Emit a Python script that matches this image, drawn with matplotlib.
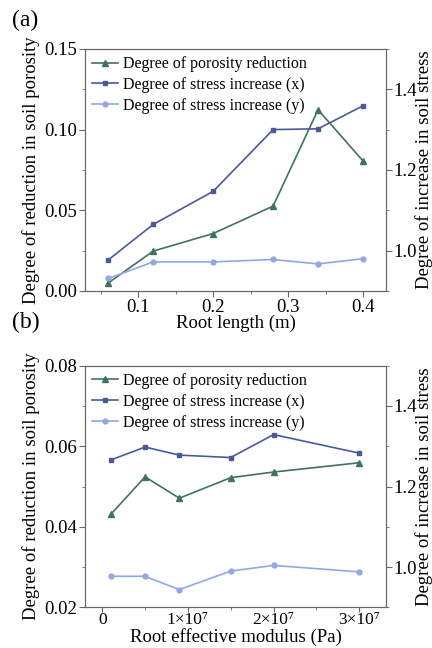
import matplotlib
matplotlib.use("Agg")
import matplotlib.pyplot as plt
from matplotlib.ticker import MultipleLocator, FuncFormatter

plt.rcParams['font.family'] = ['Liberation Serif', 'DejaVu Serif']

# panel (a): root length
root_length = [0.06, 0.12, 0.2, 0.28, 0.34, 0.4]
porosity_a = [0.005, 0.0247, 0.0356, 0.0526, 0.1123, 0.0806]
stress_x_a = [0.977, 1.065, 1.147, 1.300, 1.302, 1.359]
stress_y_a = [0.931, 0.972, 0.972, 0.978, 0.967, 0.980]

# panel (b): root effective modulus
modulus = [1e6, 5e6, 9e6, 1.5e7, 2e7, 3e7]
porosity_b = [0.0431, 0.0524, 0.0471, 0.0522, 0.0536, 0.0559]
stress_x_b = [1.266, 1.298, 1.278, 1.272, 1.329, 1.283]
stress_y_b = [0.977, 0.977, 0.944, 0.990, 1.004, 0.988]

labels = ['Degree of porosity reduction',
          'Degree of stress increase (x)',
          'Degree of stress increase (y)']

c_por = '#3f7262'
c_sx = '#4a5a99'
c_sy = '#8fa9e6'
spine_c = '#666666'
fs = 13.5
fs_leg = 11.5


def style(ax):
    for s in ax.spines.values():
        s.set_color(spine_c)
    ax.tick_params(which='both', direction='out', color=spine_c, labelsize=fs, pad=1.5)
    ax.tick_params(which='major', length=4)
    ax.tick_params(which='minor', length=2.5)


def panel(rect, x, por, sx, sy, xlabel, ylim, ymaj, ymin, xlim, xmaj, xmin, xlab_y):
    ax = fig.add_axes(rect)
    ax2 = ax.twinx()
    l1, = ax.plot(x, por, color=c_por, marker='^', ms=4, lw=1.2, label=labels[0])
    l2, = ax2.plot(x, sx, color=c_sx, marker='s', ms=3.5, lw=1.2, label=labels[1])
    l3, = ax2.plot(x, sy, color=c_sy, marker='o', ms=3.5, lw=1.2, label=labels[2])
    ax.set_xlim(*xlim)
    ax.set_ylim(*ylim)
    ax2.set_ylim(0.9, 1.5)
    ax.xaxis.set_major_locator(MultipleLocator(xmaj))
    ax.xaxis.set_minor_locator(MultipleLocator(xmin))
    ax.yaxis.set_major_locator(MultipleLocator(ymaj))
    ax.yaxis.set_minor_locator(MultipleLocator(ymin))
    ax2.yaxis.set_major_locator(MultipleLocator(0.2))
    ax2.yaxis.set_minor_locator(MultipleLocator(0.1))
    ax2.yaxis.set_major_formatter(FuncFormatter(lambda v, p: f'{v:.1f}'))
    ax.yaxis.set_major_formatter(FuncFormatter(lambda v, p: f'{v:.2f}'))
    style(ax)
    style(ax2)
    ax.set_xlabel(xlabel, fontsize=fs)
    ax.xaxis.set_label_coords(0.5, xlab_y)
    ax.set_ylabel('Degree of reduction in soil porosity', fontsize=fs)
    ax.yaxis.set_label_coords(-0.15, 0.5)
    ax2.set_ylabel('Degree of increase in soil stress', fontsize=fs)
    ax2.yaxis.set_label_coords(1.097, 0.5)
    ax2.legend(handles=[l1, l2, l3], loc='upper left', frameon=False,
               fontsize=fs_leg, handlelength=1.6, handletextpad=0.3,
               labelspacing=0.3, borderaxespad=0.25, borderpad=0.2)
    return ax


fig = plt.figure(figsize=(4.32, 6.48), dpi=100)

ax_a = panel([0.197, 0.551, 0.697, 0.3735], root_length, porosity_a, stress_x_a, stress_y_a,
             'Root length (m)', (0, 0.15), 0.05, 0.025, (0.029, 0.431), 0.1, 0.05, -0.1)
ax_a.xaxis.set_major_formatter(FuncFormatter(lambda v, p: f'{v:.1f}'))

ax_b = panel([0.197, 0.0628, 0.697, 0.3728], modulus, porosity_b, stress_x_b, stress_y_b,
             'Root effective modulus (Pa)', (0.02, 0.08), 0.02, 0.01, (-2e6, 3.315e7), 1e7, 5e6, -0.086)


def sci(v, p):
    n = int(round(v / 1e7))
    if n == 0:
        return '0'
    return '%d×10⁷' % n


ax_b.xaxis.set_major_formatter(FuncFormatter(sci))
ax_b.tick_params(axis='x', labelsize=12.5, pad=0)
ax_b.tick_params(axis='x', which='major', length=3.5)

fig.text(0.028, 0.968, '(a)', fontsize=17, va='center', ha='left')
fig.text(0.028, 0.503, '(b)', fontsize=17, va='center', ha='left')

fig.savefig('out.png', dpi=100)
